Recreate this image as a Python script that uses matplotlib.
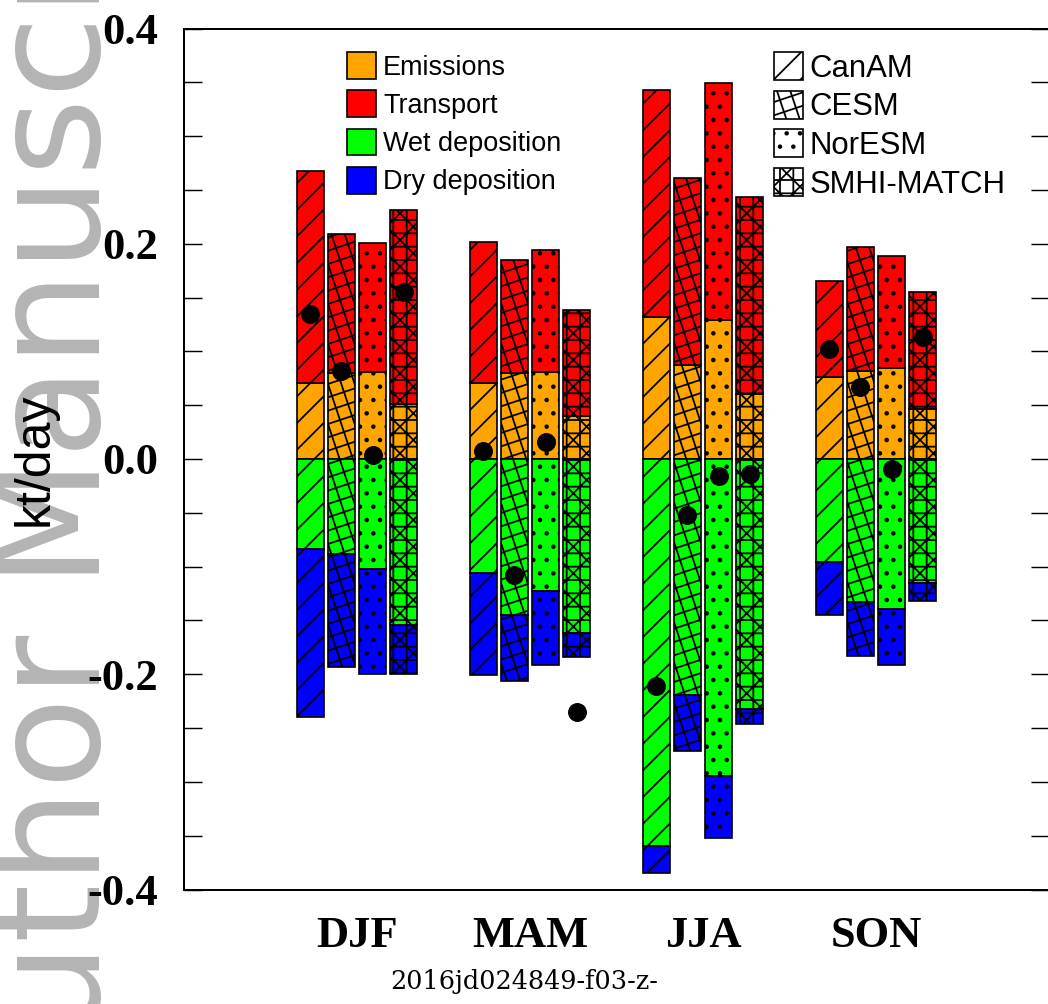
import numpy as np
import matplotlib
matplotlib.use('Agg')
import matplotlib.pyplot as plt
import matplotlib.hatch as mhatch
from matplotlib.path import Path
from matplotlib.patches import Patch
from matplotlib.ticker import MultipleLocator

# ---------------- data (kt/day) ----------------
seasons = ['DJF', 'MAM', 'JJA', 'SON']
models = ['CanAM', 'CESM', 'NorESM', 'SMHI-MATCH']
components = ['Emissions', 'Transport', 'Wet deposition', 'Dry deposition']
ytick_values = [-0.4, -0.2, 0.0, 0.2, 0.4]
ytick_labels = ['-0.4', '-0.2', '0.0', '0.2', '0.4']

# rows: seasons, columns: models
emissions = [[0.071, 0.080, 0.081, 0.051],
             [0.071, 0.080, 0.081, 0.040],
             [0.132, 0.087, 0.129, 0.060],
             [0.076, 0.082, 0.085, 0.046]]
transport = [[0.197, 0.129, 0.120, 0.180],
             [0.131, 0.105, 0.113, 0.098],
             [0.211, 0.174, 0.220, 0.183],
             [0.089, 0.115, 0.104, 0.109]]
wet_dep = [[-0.084, -0.088, -0.102, -0.154],
           [-0.106, -0.145, -0.123, -0.162],
           [-0.360, -0.219, -0.295, -0.232],
           [-0.096, -0.133, -0.139, -0.115]]
dry_dep = [[-0.156, -0.105, -0.098, -0.046],
           [-0.095, -0.061, -0.068, -0.022],
           [-0.025, -0.052, -0.057, -0.014],
           [-0.049, -0.050, -0.052, -0.017]]
net_change = [[0.135, 0.082, 0.004, 0.155],
              [0.007, -0.108, 0.016, -0.235],
              [-0.211, -0.052, -0.016, -0.014],
              [0.102, 0.067, -0.009, 0.113]]

# ---------------- styles ----------------
comp_colors = ['#FFA500', '#FF0000', '#00FF00', '#0000FF']
model_hatches = ['/', '*', '.', 'x+']


# custom tilted grid hatch used for CESM (replaces the '*' pattern)
class TiltedGrid(mhatch.HatchPatternBase):
    def __init__(self, hatch, density):
        n = hatch.count('*') * 2
        if n:
            self.ca = np.arange(np.floor(-3.2 * n), np.ceil(1.2 * n) + 1) / n
            self.cb = np.arange(-1, 4 * n + 2) / n
        else:
            self.ca = np.array([])
            self.cb = np.array([])
        self.num_lines = len(self.ca) + len(self.cb)
        self.num_vertices = 2 * self.num_lines

    def set_vertices_and_codes(self, vertices, codes):
        y0, y1 = -0.05, 1.05
        na = len(self.ca)
        va = vertices[:2 * na]
        va[0::2, 0] = self.ca + 3 * y0
        va[0::2, 1] = y0
        va[1::2, 0] = self.ca + 3 * y1
        va[1::2, 1] = y1
        vb = vertices[2 * na:]
        vb[0::2, 0] = (self.cb - y0) / 3
        vb[0::2, 1] = y0
        vb[1::2, 0] = (self.cb - y1) / 3
        vb[1::2, 1] = y1
        codes[0::2] = Path.MOVETO
        codes[1::2] = Path.LINETO


mhatch._hatch_types[mhatch._hatch_types.index(mhatch.Stars)] = TiltedGrid

plt.rcParams['hatch.linewidth'] = 1.6
plt.rcParams['hatch.color'] = 'black'
plt.rcParams['font.family'] = ['Liberation Sans', 'DejaVu Sans']

DPI = 80
fig = plt.figure(figsize=(1048 / DPI, 1004 / DPI), dpi=DPI)

# watermark
fig.text(0.095, -0.135, 'Author Manuscript', rotation=90, rotation_mode='anchor',
         ha='left', va='baseline', fontsize=135, color='#b4b4b4',
         family='DejaVu Sans', zorder=-5)

ax = fig.add_axes([184 / 1048, 1 - 889.5 / 1004, 865 / 1048, 861 / 1004])
ax.set_facecolor('none')

emissions = np.array(emissions)
transport = np.array(transport)
wet_dep = np.array(wet_dep)
dry_dep = np.array(dry_dep)
net_change = np.array(net_change)

step = 0.1792
width = 0.16
xs = np.arange(len(seasons))
for j, m in enumerate(models):
    x = xs + (j - 1.5) * step
    kw = dict(width=width, edgecolor='black', linewidth=1.5, hatch=model_hatches[j], zorder=2)
    ax.bar(x, emissions[:, j], color=comp_colors[0], **kw)
    ax.bar(x, transport[:, j], bottom=emissions[:, j], color=comp_colors[1], **kw)
    ax.bar(x, wet_dep[:, j], color=comp_colors[2], **kw)
    ax.bar(x, dry_dep[:, j], bottom=wet_dep[:, j], color=comp_colors[3], **kw)
    ax.plot(x, net_change[:, j], 'o', color='black', markersize=16, zorder=4)

ax.set_xlim(-1, 4)
ax.set_ylim(-0.4, 0.4)
ax.set_xticks(xs)
ax.set_xticklabels(seasons, fontsize=40, fontweight='bold', family='Liberation Serif')
ax.set_yticks(ytick_values)
ax.set_yticklabels(ytick_labels, fontsize=40, fontweight='bold', family='Liberation Serif')
ax.yaxis.set_minor_locator(MultipleLocator(0.05))
ax.tick_params(axis='y', which='both', direction='in', length=16, width=1.3,
               left=True, right=True, pad=23)
ax.tick_params(axis='x', which='both', length=0, pad=24)
for s in ax.spines.values():
    s.set_linewidth(1.8)

ax.set_ylabel('kt/day', fontsize=45, family='Liberation Sans')
ax.yaxis.set_label_coords(-0.1457, 0.5)

# legends
h1 = [Patch(facecolor=c, edgecolor='black', linewidth=1.5) for c in comp_colors]
leg1 = ax.legend(h1, components, loc='upper left', bbox_to_anchor=(0.1884, 0.9727),
                 frameon=False, fontsize=24.3, handlelength=1.07, handleheight=1.15,
                 labelspacing=0.36, handletextpad=0.26, borderpad=0, borderaxespad=0)
ax.add_artist(leg1)
h2 = [Patch(facecolor='white', edgecolor='black', linewidth=1.5, hatch=h) for h in model_hatches]
ax.legend(h2, models, loc='upper left', bbox_to_anchor=(0.682, 0.9727),
          frameon=False, fontsize=28, handlelength=0.93, handleheight=1.0,
          labelspacing=0.23, handletextpad=0.22, borderpad=0, borderaxespad=0)

fig.text(524 / 1048, 1 - 982 / 1004, '2016jd024849-f03-z-', ha='center', va='center',
         family='DejaVu Serif', fontsize=23)

fig.savefig('out.png', dpi=DPI)
